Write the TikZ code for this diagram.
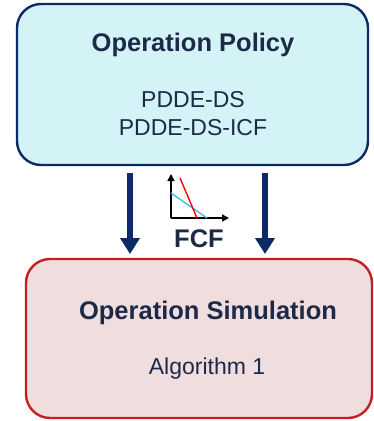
\documentclass[tikz,border=0pt]{standalone}
\usepackage{fontspec}
\setmainfont{Liberation Sans}
\usetikzlibrary{arrows.meta}
\definecolor{navy}{HTML}{0B2A66}
\definecolor{txt}{HTML}{1C2A48}
\definecolor{cyanfill}{HTML}{D3F3F7}
\definecolor{redfill}{HTML}{F0DEDF}
\definecolor{redline}{HTML}{C81E1E}
\definecolor{bluecurve}{HTML}{4CB8E8}
\tikzset{
  box/.style={rounded corners=24pt, line width=2.4pt},
  title/.style={font=\fontsize{25.5}{28}\selectfont\bfseries, text=txt, inner sep=0pt},
  sub/.style={font=\fontsize{23}{28}\selectfont, text=txt, inner sep=0pt},
  flow/.style={line width=6pt, draw=navy, -{Triangle[width=19pt,length=16pt]}},
  axis/.style={line width=1.5pt, -{Triangle[width=7pt,length=7pt]}},
}
\begin{document}
\begin{tikzpicture}[x=1pt,y=-1pt]
\useasboundingbox (0,0) rectangle (374,421);
\draw[box, draw=navy, fill=cyanfill] (17,4) rectangle (368,165);
\draw[box, draw=redline, fill=redfill] (26,259) rectangle (372,418);
\node[title] (t1) at (193,45) {Operation Policy};
\node[sub] (s1) at (193,100) {PDDE-DS};
\node[sub] (s2) at (193,128) {PDDE-DS-ICF};
\node[title] (t2) at (208,313) {Operation Simulation};
\node[sub] (s3) at (207,369) {Algorithm 1};
% arrows
\coordinate (a1s) at (130,173);
\coordinate (a1e) at (130,254);
\coordinate (a2s) at (265,173);
\coordinate (a2e) at (265,254);
\draw[flow] (a1s) -- (a1e);
\draw[flow] (a2s) -- (a2e);
% FCF chart
\coordinate (o) at (171,218);
\coordinate (ytop) at (171,174);
\coordinate (xend) at (229,218);
\draw[axis] (o) -- (ytop);
\draw[axis] (o) -- (xend);
\draw[bluecurve, line width=1.4pt] (171,193) -- (207,218);
\draw[red, line width=1.4pt] (180,178) -- (197,218);
\node[title] (fcf) at (199,239) {FCF};
\end{tikzpicture}
\end{document}
